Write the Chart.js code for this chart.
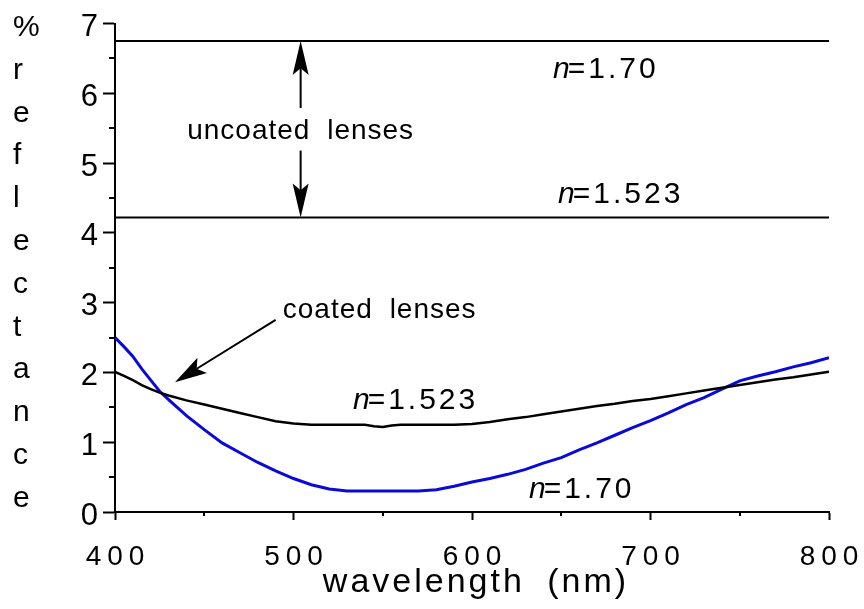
<!DOCTYPE html>
<html>
<head>
<meta charset="utf-8">
<script src="https://cdn.jsdelivr.net/npm/chart.js@4/dist/chart.umd.min.js"></script>
<style>
  html, body { margin: 0; background: #fff; }
</style>
</head>
<body>
<canvas id="c" width="864" height="609"></canvas>
<script>
// wavelength grid (nm)
const wavelengths = [400, 405, 410, 415, 420, 425, 430, 440, 450, 460, 470, 480, 490, 500, 510, 520, 530, 540, 545, 550, 555,
  560, 570, 580, 590, 600, 610, 620, 630, 640, 650, 660, 670, 680, 690, 700, 710, 720, 730, 740, 750, 760, 770, 780, 790, 800];

// % reflectance, coated lens n=1.523 (black)
const coated1523 = [2.01, 1.95, 1.89, 1.82, 1.76, 1.71, 1.67, 1.60, 1.54, 1.48, 1.42, 1.36, 1.30, 1.27, 1.25, 1.25, 1.25, 1.25, 1.23, 1.22, 1.24,
  1.25, 1.25, 1.25, 1.25, 1.26, 1.29, 1.33, 1.36, 1.40, 1.44, 1.48, 1.52, 1.55, 1.59, 1.62, 1.66, 1.70, 1.74, 1.78, 1.82, 1.86, 1.90, 1.93, 1.97, 2.01];

// % reflectance, coated lens n=1.70 (blue)
const coated170 = [2.50, 2.37, 2.23, 2.05, 1.89, 1.73, 1.61, 1.38, 1.18, 0.99, 0.85, 0.71, 0.59, 0.48, 0.39, 0.33, 0.30, 0.30, 0.30, 0.30, 0.30,
  0.30, 0.30, 0.32, 0.37, 0.43, 0.48, 0.54, 0.61, 0.70, 0.78, 0.89, 0.99, 1.10, 1.21, 1.31, 1.42, 1.54, 1.64, 1.76, 1.88, 1.95, 2.01, 2.08, 2.14, 2.21];

// uncoated lenses, flat reflectance
const uncoatedRange = [400, 800];
const uncoated170 = 6.75;
const uncoated1523 = 4.22;

const xTicks = ["400", "500", "600", "700", "800"];
const yLetters = ["%", "r", "e", "f", "l", "e", "c", "t", "a", "n", "c", "e"];

const FONT = "'Liberation Sans', Arial, sans-serif";

function pts(xs, ys) {
  return xs.map((x, i) => ({ x: x, y: ys[i] }));
}
function flat(v) {
  return uncoatedRange.map(x => ({ x: x, y: v }));
}

function arrow(ctx, x1, y1, x2, y2, len, half) {
  const a = Math.atan2(y2 - y1, x2 - x1);
  const bx = x2 - Math.cos(a) * len, by = y2 - Math.sin(a) * len;
  const nx = x2 - Math.cos(a) * len * 0.8, ny = y2 - Math.sin(a) * len * 0.8;
  ctx.beginPath();
  ctx.moveTo(x1, y1);
  ctx.lineTo(nx, ny);
  ctx.stroke();
  ctx.beginPath();
  ctx.moveTo(x2, y2);
  ctx.lineTo(bx - Math.sin(a) * half, by + Math.cos(a) * half);
  ctx.lineTo(nx, ny);
  ctx.lineTo(bx + Math.sin(a) * half, by - Math.cos(a) * half);
  ctx.closePath();
  ctx.fill();
}

// "n=1.70" with italic n
function nLabel(ctx, x, y, value) {
  ctx.font = "italic 30px " + FONT;
  ctx.letterSpacing = "0px";
  ctx.fillText("n", x, y);
  const w = ctx.measureText("n").width;
  ctx.font = "30px " + FONT;
  ctx.letterSpacing = "3px";
  ctx.fillText("=" + value, x + w - 2, y);
}

const extras = {
  id: "extras",
  afterDraw(chart) {
    const ctx = chart.ctx;
    const xs = chart.scales.x, ys = chart.scales.y;
    const X = v => xs.getPixelForValue(v), Y = v => ys.getPixelForValue(v);
    ctx.save();
    ctx.strokeStyle = "#000";
    ctx.fillStyle = "#000";
    ctx.lineWidth = 2;

    // minor ticks
    const yt = ys.ticks, xt = xs.ticks;
    for (let i = 0; i < yt.length - 1; i++) {
      const py = Math.round(Y((yt[i].value + yt[i + 1].value) / 2));
      ctx.beginPath(); ctx.moveTo(xs.left - 6, py); ctx.lineTo(xs.left, py); ctx.stroke();
    }
    for (let i = 0; i < xt.length - 1; i++) {
      const px = Math.round(X((xt[i].value + xt[i + 1].value) / 2));
      ctx.beginPath(); ctx.moveTo(px, ys.bottom); ctx.lineTo(px, ys.bottom + 4); ctx.stroke();
    }

    // x tick labels
    ctx.font = "28px " + FONT;
    ctx.letterSpacing = "6px";
    ctx.textAlign = "left";
    ctx.textBaseline = "alphabetic";
    xt.forEach((t, i) => {
      const s = xTicks[i];
      const w = ctx.measureText(s).width - 6;
      ctx.fillText(s, X(t.value) - w / 2, ys.bottom + 53);
    });

    // axis titles
    ctx.font = "34px " + FONT;
    ctx.letterSpacing = "3px";
    ctx.wordSpacing = "10px";
    ctx.textAlign = "center";
    ctx.fillText("wavelength (nm)", (xs.left + xs.right) / 2 + 4, 592);
    ctx.wordSpacing = "0px";
    ctx.font = "30px " + FONT;
    ctx.letterSpacing = "0px";
    ctx.textAlign = "left";
    yLetters.forEach((c, i) => ctx.fillText(c, 13, 36 + i * 42.8));

    // annotations
    ctx.font = "28px " + FONT;
    ctx.letterSpacing = "1px";
    ctx.wordSpacing = "8px";
    ctx.textAlign = "center";
    ctx.fillText("uncoated lenses", X(504), Y(5.34));
    ctx.textAlign = "left";
    ctx.fillText("coated lenses", X(494), Y(2.78));
    ctx.wordSpacing = "0px";

    ctx.lineWidth = 2;
    arrow(ctx, X(504), Y(5.79), X(504), Y(uncoated170), 34, 8);
    arrow(ctx, X(504), Y(5.18), X(504), Y(uncoated1523), 34, 8);
    arrow(ctx, X(490), Y(2.755), X(433.6), Y(1.86), 32, 9);

    nLabel(ctx, X(645.4), Y(6.22), "1.70");
    nLabel(ctx, X(648.2), Y(4.43), "1.523");
    nLabel(ctx, X(533.3), Y(1.48), "1.523");
    nLabel(ctx, X(631.9), Y(0.2), "1.70");
    ctx.restore();
  }
};

new Chart(document.getElementById("c").getContext("2d"), {
  type: "line",
  data: {
    datasets: [
      { label: "coated n=1.523", data: pts(wavelengths, coated1523), borderColor: "#000", borderWidth: 2.5, pointRadius: 0, tension: 0 },
      { label: "coated n=1.70", data: pts(wavelengths, coated170), borderColor: "#0a0ad8", borderWidth: 3, pointRadius: 0, tension: 0 },
      { label: "uncoated n=1.70", data: flat(uncoated170), borderColor: "#000", borderWidth: 2, pointRadius: 0 },
      { label: "uncoated n=1.523", data: flat(uncoated1523), borderColor: "#000", borderWidth: 2, pointRadius: 0 }
    ]
  },
  options: {
    responsive: false,
    animation: false,
    layout: { padding: { left: 0, right: 35, top: 20, bottom: 0 } },
    plugins: { legend: { display: false }, tooltip: { enabled: false } },
    scales: {
      x: {
        type: "linear",
        min: 400,
        max: 800,
        border: { color: "#000", width: 2 },
        grid: { drawOnChartArea: false, tickLength: 8, tickColor: "#000", tickWidth: 2 },
        ticks: { stepSize: 100, display: false },
        afterFit(s) { s.height = 97; }
      },
      y: {
        min: 0,
        max: 7,
        border: { color: "#000", width: 2 },
        grid: { drawOnChartArea: false, tickLength: 12, tickColor: "#000", tickWidth: 2 },
        ticks: { stepSize: 1, color: "#000", padding: 5, labelOffset: 4, font: { family: FONT, size: 31 } },
        afterFit(s) { s.width = 115; }
      }
    }
  },
  plugins: [extras]
});
</script>
</body>
</html>
